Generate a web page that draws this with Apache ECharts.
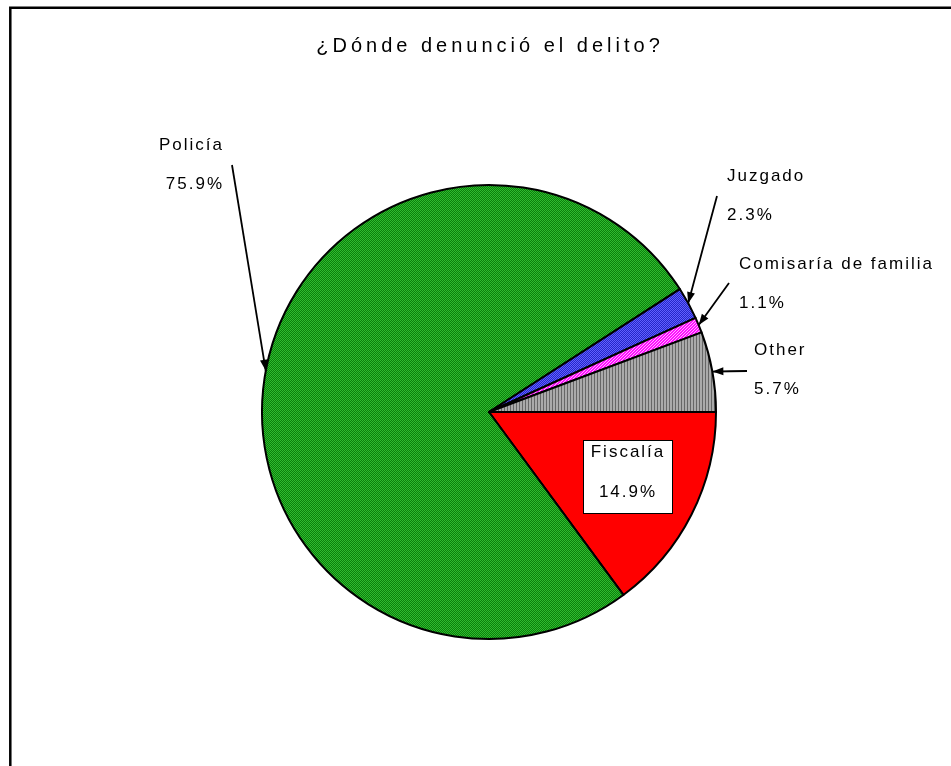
<!DOCTYPE html>
<html>
<head>
<meta charset="utf-8">
<title>¿Dónde denunció el delito?</title>
<script src="https://cdn.jsdelivr.net/npm/echarts@6/dist/echarts.min.js"></script>
<style>
  html, body { margin: 0; padding: 0; background: #fff; }
  #chart { width: 951px; height: 766px; }
</style>
</head>
<body>
<div id="chart"></div>
<script>
// --- data ---
const chartTitle = '¿Dónde denunció el delito?';
const categories = ['Fiscalía', 'Policía', 'Juzgado', 'Comisaría de familia', 'Other'];
const values = [14.9, 75.9, 2.3, 1.1, 5.7];

const FONT = '"Liberation Sans", Arial, sans-serif';

// Excel-like hatched fills, drawn into tiny canvases
function makePattern(w, h, paint) {
  const c = document.createElement('canvas');
  c.width = w; c.height = h;
  const ctx = c.getContext('2d');
  for (let y = 0; y < h; y++) {
    for (let x = 0; x < w; x++) {
      ctx.fillStyle = paint(x, y);
      ctx.fillRect(x, y, 1, 1);
    }
  }
  return { image: c, repeat: 'repeat' };
}

const FILLS = {
  'Fiscalía': '#ff0000',
  'Policía': makePattern(2, 2, (x, y) => (x + y) % 2 ? '#0b800b' : '#30bb30'),
  'Juzgado': makePattern(2, 2, (x, y) => (x + y) % 2 ? '#2626c8' : '#6060ff'),
  'Comisaría de familia': makePattern(3, 3, (x, y) => (x + y) % 3 === 0 ? '#ffb0ff' : '#ff10ff'),
  'Other': makePattern(3, 1, x => x === 0 ? '#666666' : '#aaaaaa')
};

// where each label sits and where its arrow starts
const LABEL_POS = {
  'Policía': { x: 224, y: 136, align: 'right', line: [232, 165] },
  'Juzgado': { x: 727, y: 167, align: 'left', line: [717, 196] },
  'Comisaría de familia': { x: 739, y: 255, align: 'left', line: [729, 283] },
  'Other': { x: 754, y: 341, align: 'left', line: [747, 371] },
  'Fiscalía': { x: 628, y: 441, align: 'center' }
};

const chart = echarts.init(document.getElementById('chart'));

// the original text is set with wide letter spacing; canvas can do that per layer
try {
  const painter = chart.getZr().painter;
  const l0 = painter.getLayer(0);
  (l0.ctx || l0.dom.getContext('2d')).letterSpacing = '2px';
  const l1 = painter.getLayer(1);
  (l1.ctx || l1.dom.getContext('2d')).letterSpacing = '4px';
} catch (e) {}

const arrows = {};

const frame = {
  type: 'rect',
  id: 'frame',
  silent: true,
  shape: { x: 10.3, y: 7.8, width: 1000, height: 1000 },
  style: { fill: 'transparent', stroke: '#000', lineWidth: 2.5 }
};

const pieData = categories.map((name, i) => {
  const item = {
    name: name,
    value: values[i],
    itemStyle: { color: FILLS[name] }
  };
  if (name === 'Fiscalía') {
    item.label = {
      backgroundColor: '#fff',
      borderColor: '#000',
      borderWidth: 1,
      padding: [1, 4, 11, 4],
      width: 80,
      align: 'center',
      lineHeight: 20
    };
    item.labelLine = { show: false };
  }
  return item;
});

const option = {
  backgroundColor: '#fff',
  animation: false,
  title: {
    text: chartTitle,
    left: 490,
    top: 36,
    padding: 0,
    textAlign: 'center',
    zlevel: 1,
    textStyle: {
      color: '#000',
      fontFamily: FONT,
      fontSize: 20,
      fontWeight: 'normal'
    }
  },
  graphic: [frame],
  series: [{
    type: 'pie',
    center: [489, 412],
    radius: 227,
    startAngle: 0,
    clockwise: true,
    avoidLabelOverlap: false,
    emphasis: { disabled: true },
    itemStyle: { borderColor: '#000', borderWidth: 2 },
    label: {
      show: true,
      position: 'outside',
      formatter: p => p.name + '\n\n' + p.value + '%',
      color: '#000',
      fontFamily: FONT,
      fontSize: 17,
      lineHeight: 19.5
    },
    labelLine: {
      show: true,
      length: 10,
      length2: 10,
      lineStyle: { color: '#000', width: 1.8 }
    },
    labelLayout: function (params) {
      const name = categories[params.dataIndex];
      const cfg = LABEL_POS[name];
      const out = { x: cfg.x, y: cfg.y, align: cfg.align, verticalAlign: 'top' };
      if (cfg.line && params.labelLinePoints) {
        const tip = [params.labelLinePoints[0][0], params.labelLinePoints[0][1]];
        const from = cfg.line;
        out.labelLinePoints = [tip, [(tip[0] + from[0]) / 2, (tip[1] + from[1]) / 2], from];
        arrows[name] = { tip: tip, from: from };
      }
      return out;
    },
    data: pieData
  }]
};

chart.setOption(option);

// arrow heads at the pie end of each leader line
const heads = Object.keys(arrows).map((name, i) => {
  const a = arrows[name];
  const dx = a.tip[0] - a.from[0], dy = a.tip[1] - a.from[1];
  const len = Math.sqrt(dx * dx + dy * dy) || 1;
  const ux = dx / len, uy = dy / len;
  const nx = -uy, ny = ux;
  const bx = a.tip[0] - ux * 11, by = a.tip[1] - uy * 11;
  return {
    type: 'polygon',
    id: 'head' + i,
    silent: true,
    z: 100,
    shape: { points: [a.tip, [bx + nx * 4, by + ny * 4], [bx - nx * 4, by - ny * 4]] },
    style: { fill: '#000' }
  };
});
chart.setOption({ graphic: [frame].concat(heads) });
</script>
</body>
</html>
